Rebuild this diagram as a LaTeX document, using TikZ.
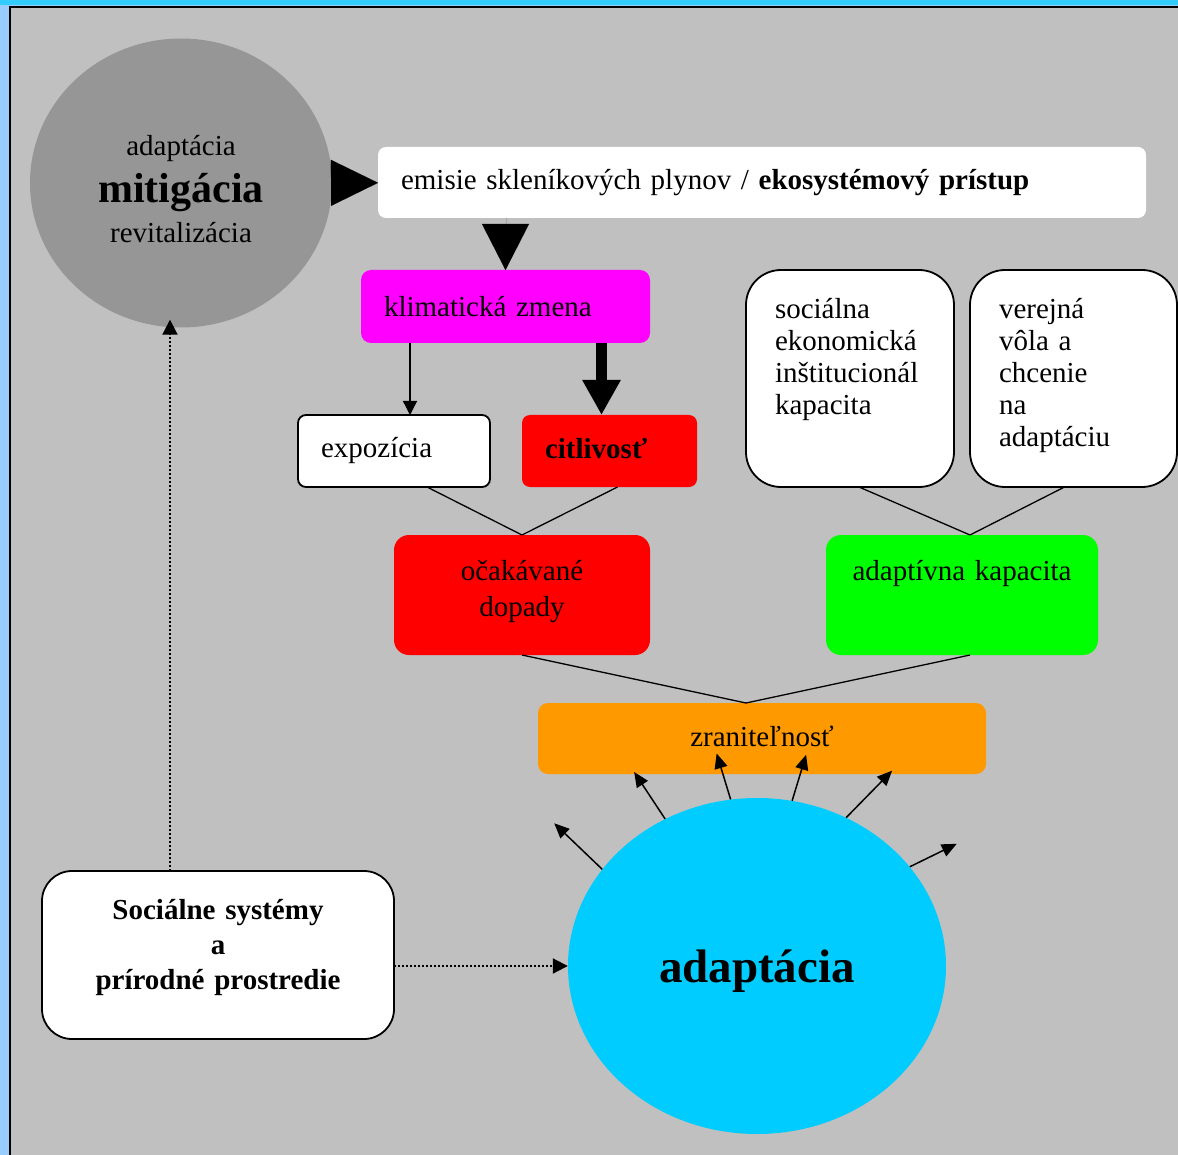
\documentclass[tikz,border=0pt]{standalone}
\usepackage{fontspec}
\setmainfont{Liberation Serif}
\usepackage{xcolor}
\usetikzlibrary{arrows.meta,shapes.geometric,calc}
\definecolor{frameblue}{HTML}{99CCFF}
\definecolor{topcyan}{HTML}{33CCFF}
\definecolor{bggray}{HTML}{C0C0C0}
\definecolor{mitgray}{HTML}{969696}
\definecolor{klimpink}{HTML}{FF00FF}
\definecolor{zorange}{HTML}{FF9900}
\definecolor{adacyan}{HTML}{00CCFF}
\newcommand{\lift}[1]{\rule[-#1]{0pt}{#1}}
\tikzset{
  txt/.style={font=\fontsize{29}{32}\selectfont},
  tag/.style={txt,anchor=north west,inner ysep=0pt,outer sep=0pt},
  leftbox/.style={tag,align=left,inner xsep=23pt},
  midbox/.style={tag,align=center,inner xsep=0pt},
  framed/.style={draw=black,line width=1.8pt},
  ptr/.style={-{Triangle[length=15pt,width=13pt]},line width=1.5pt},
  thinptr/.style={-{Triangle[length=14pt,width=14pt]},line width=1.3pt},
  fatptr/.style={-{Triangle[length=35pt,width=36pt]},line width=11pt},
  bigtip/.style={-{Triangle[length=47pt,width=46pt]},line width=0.01pt},
  dots/.style={dash pattern=on 2pt off 2pt,line width=2pt,-{Triangle[length=15pt,width=15pt]}},
  link/.style={line width=1.3pt}
}

\begin{document}
\begin{tikzpicture}[x=1pt,y=-1pt]
  % Frame
  \useasboundingbox (0,0) rectangle (1178,1155);
  \fill[frameblue] (0,0) rectangle (1178,1155);
  \fill[topcyan] (0,0) rectangle (1178,5);
  \fill[bggray] (10,7) rectangle (1178,1155);
  \draw[line width=2pt] (10,1155) -- (10,7) -- (1178,7);

  % Circles
  \node[ellipse,fill=mitgray,minimum width=302pt,minimum height=289pt,inner sep=0pt,
        txt,align=center] (mit) at (181,183)
    {\rule{0pt}{32pt}adaptácia\\[10pt]{\fontsize{42}{46}\selectfont\bfseries mitigácia}\\[8pt]revitalizácia};
  \node[ellipse,fill=adacyan,minimum width=378pt,minimum height=336pt,inner sep=0pt,
        font=\fontsize{47}{50}\selectfont\bfseries] (ada) at (757,966) {\rule{0pt}{42pt}adaptácia};

  % Boxes
  \node[leftbox,fill=white,rounded corners=8pt,text width=722pt,minimum height=71pt]
    (emis) at (378,147) {emisie skleníkových plynov / \textbf{ekosystémový prístup}};
  \node[leftbox,fill=klimpink,rounded corners=10pt,text width=243pt,minimum height=73pt]
    (klim) at (361,270) {klimatická zmena};
  \node[leftbox,framed,fill=white,rounded corners=8pt,text width=146pt,minimum height=72pt]
    (expo) at (298,415) {expozícia};
  \node[leftbox,fill=red,rounded corners=8pt,text width=129pt,minimum height=72pt]
    (citl) at (522,415) {\textbf{citlivosť}\lift{5pt}};
  \node[leftbox,framed,fill=white,inner xsep=29pt,rounded corners=35pt,text width=150pt,
        minimum height=217pt] (kap) at (746,270)
    {sociálna\\ekonomická\\inštitucionál\\kapacita\lift{45pt}};
  \node[leftbox,framed,fill=white,inner xsep=29pt,rounded corners=35pt,text width=149pt,
        minimum height=217pt] (vola) at (970,270)
    {verejná\\vôla a\\chcenie\\na\\adaptáciu\lift{13pt}};
  \node[midbox,fill=red,rounded corners=15pt,text width=256pt,minimum height=120pt,
        font=\fontsize{29}{36}\selectfont] (dopady) at (394,535)
    {očakávané\\dopady\lift{14pt}};
  \node[midbox,fill=green,rounded corners=15pt,text width=272pt,minimum height=120pt]
    (adkap) at (826,535) {adaptívna kapacita\lift{50pt}};
  \node[midbox,fill=zorange,rounded corners=10pt,text width=448pt,minimum height=71pt]
    (zran) at (538,703) {zraniteľnosť\lift{5pt}};
  \node[midbox,framed,fill=white,rounded corners=30pt,text width=352pt,minimum height=168pt,
        font=\fontsize{29}{35}\selectfont\bfseries] (sys) at (42,871)
    {Sociálne systémy\\a\\prírodné prostredie\lift{22pt}};

  % Arrows
  \draw[bigtip] (mit) -- (emis);
  \draw[-{Triangle[length=46pt,width=47pt]},line width=0.01pt] (emis.south -| klim.north) -- (klim.north);
  \draw[thinptr] ([xshift=16pt]expo.north |- klim.south) -- ([xshift=16pt]expo.north);
  \draw[fatptr] ([xshift=-8pt]citl.north |- klim.south) -- ([xshift=-8pt]citl.north);

  % Links
  \draw[link] ([xshift=33pt]expo.south) -- (dopady.north);
  \draw[link] ([xshift=8pt]citl.south) -- (dopady.north);
  \draw[link] ([xshift=9pt]kap.south) -- ([xshift=8pt]adkap.north);
  \draw[link] ([xshift=-9pt]vola.south) -- ([xshift=8pt]adkap.north);
  \draw[link] (dopady.south) -- ([xshift=-16pt]zran.north);
  \draw[link] ([xshift=8pt]adkap.south) -- ([xshift=-16pt]zran.north);

  % Dotted connections
  \draw[dots] (sys.east |- ada.west) -- (ada.west);
  \draw[dots] ([xshift=-48pt]sys.north) -- ([xshift=-11pt,yshift=8pt]mit.south);

  % Arrows out of adaptation
  \foreach \ang/\dx/\dy [count=\i] in {148/-48/-46,122/-31/-47,99/-14/-46,78/14/-46,59/46/-47,33/47/-23} {
    \coordinate (out\i) at ($(ada.\ang)+(\dx,\dy)$);
    \draw[ptr] (ada.\ang) -- (out\i);
  }
\end{tikzpicture}
\end{document}
